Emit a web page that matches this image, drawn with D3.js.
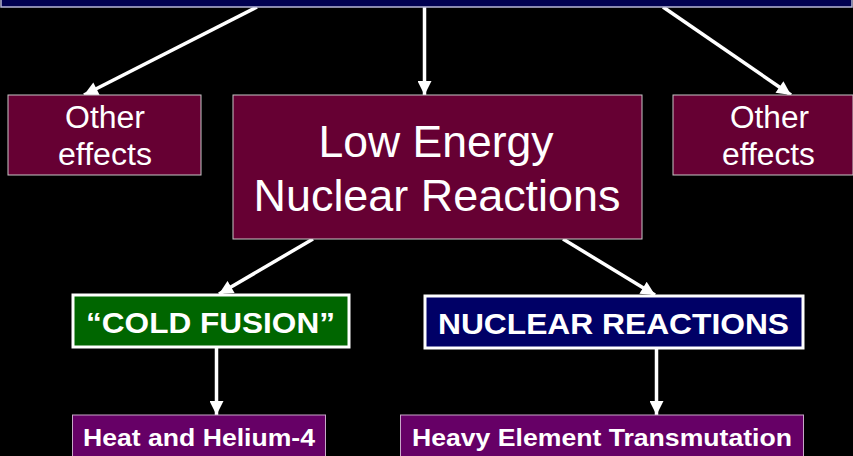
<!DOCTYPE html>
<html><head><meta charset="utf-8">
<script src="https://cdn.jsdelivr.net/npm/d3@7"></script>
<style>
html,body{margin:0;padding:0;background:#000;}
svg{display:block;font-family:"Liberation Sans",Arial,sans-serif;}
</style></head>
<body><svg id="c" width="853" height="456"></svg>
<script>
// Node labels (content)
const nodeIds = ["top","otherL","lenr","otherR","cold","nuclear","heat","heavy"];
const nodeLabels = [[""],["Other","effects"],["Low Energy","Nuclear Reactions"],["Other","effects"],["\u201CCOLD FUSION\u201D"],["NUCLEAR REACTIONS"],["Heat and Helium-4"],["Heavy Element Transmutation"]];
const linkSources = ["top","top","top","lenr","lenr","cold","nuclear"];
const linkTargets = ["otherL","lenr","otherR","cold","nuclear","heat","heavy"];

// Layout / styles (kept separate from content)
const layout = {
  top:    {x:1,   y:-20, w:851, h:27,  fill:"#000050", stroke:"#b8b8d8", sw:1.5, size:0,  bold:false, lh:0},
  otherL: {x:8,   y:95,  w:193, h:80,  fill:"#660033", stroke:"#c8c8c8", sw:1, size:31, bold:false, lh:37},
  lenr:   {x:233, y:95,  w:409, h:144, fill:"#660033", stroke:"#c8c8c8", sw:1, size:45, bold:false, lh:54},
  otherR: {x:673, y:95,  w:180, h:80,  fill:"#660033", stroke:"#c8c8c8", sw:1, size:31, bold:false, lh:37},
  cold:   {x:73,  y:295, w:276, h:52,  fill:"#006600", stroke:"#ffffff", sw:3, size:30, bold:true, lh:0},
  nuclear:{x:425, y:296, w:378, h:52,  fill:"#000066", stroke:"#ffffff", sw:3, size:30, bold:true, lh:0},
  heat:   {x:72.5,y:415, w:253, h:60,  fill:"#660066", stroke:"#c8a8c8", sw:1, size:24.5, bold:true, lh:0},
  heavy:  {x:400.5,y:415,w:403, h:60,  fill:"#660066", stroke:"#c8a8c8", sw:1, size:24.5, bold:true, lh:0}
};
const textBase = {otherL:128, lenr:157, otherR:128, cold:333, nuclear:334, heat:446, heavy:446};
const textCx = {otherL:[105,105], lenr:[436,437], otherR:[769.5,768.5], cold:[210.5], nuclear:[613.5], heat:[199], heavy:[602]};
const textW = {otherL:[80,94], lenr:[235,367], otherR:[79,93], cold:[249], nuclear:[351], heat:[232], heavy:[380]};
const linkEnds = [
  [[257,7],[84,95]],
  [[424.5,7],[424.5,95]],
  [[663,7],[791,95]],
  [[313,239],[219,294]],
  [[563,239],[655,295]],
  [[216.5,347],[216.5,415]],
  [[656.5,348],[656.5,415]]
];

const svg = d3.select("#c");
svg.append("rect").attr("width",853).attr("height",456).attr("fill","#000");

const defs = svg.append("defs");
defs.append("marker").attr("id","ah").attr("viewBox","0 0 10 10")
  .attr("refX",10).attr("refY",5).attr("markerWidth",4.2).attr("markerHeight",4)
  .attr("markerUnits","strokeWidth").attr("orient","auto")
  .append("path").attr("d","M0,0 L10,5 L0,10 Z").attr("fill","#fff");

const links = linkSources.map((s,i)=>({s, t:linkTargets[i], p:linkEnds[i]}));
const line = d3.line();
svg.append("g").selectAll("path").data(links).join("path")
  .attr("d", d=>line(d.p)).attr("stroke","#fff").attr("stroke-width",3.5)
  .attr("fill","none").attr("marker-end","url(#ah)");

const nodes = nodeIds.map((id,i)=>({id, label:nodeLabels[i], ...layout[id]}));
const g = svg.append("g").selectAll("g").data(nodes).join("g");
g.append("rect").attr("x",d=>d.x).attr("y",d=>d.y).attr("width",d=>d.w).attr("height",d=>d.h)
  .attr("fill",d=>d.fill).attr("stroke",d=>d.stroke).attr("stroke-width",d=>d.sw);
g.filter(d=>d.size>0).each(function(d){
  const grp = d3.select(this);
  d.label.forEach((l,i)=>{
    grp.append("text").attr("text-anchor","middle").attr("fill","#fff")
      .attr("font-size",d.size).attr("font-weight",d.bold?"bold":"normal")
      .attr("x",textCx[d.id][i]).attr("y",textBase[d.id]+i*d.lh)
      .attr("textLength",textW[d.id][i]).attr("lengthAdjust","spacingAndGlyphs")
      .text(l);
  });
});
</script></body></html>
